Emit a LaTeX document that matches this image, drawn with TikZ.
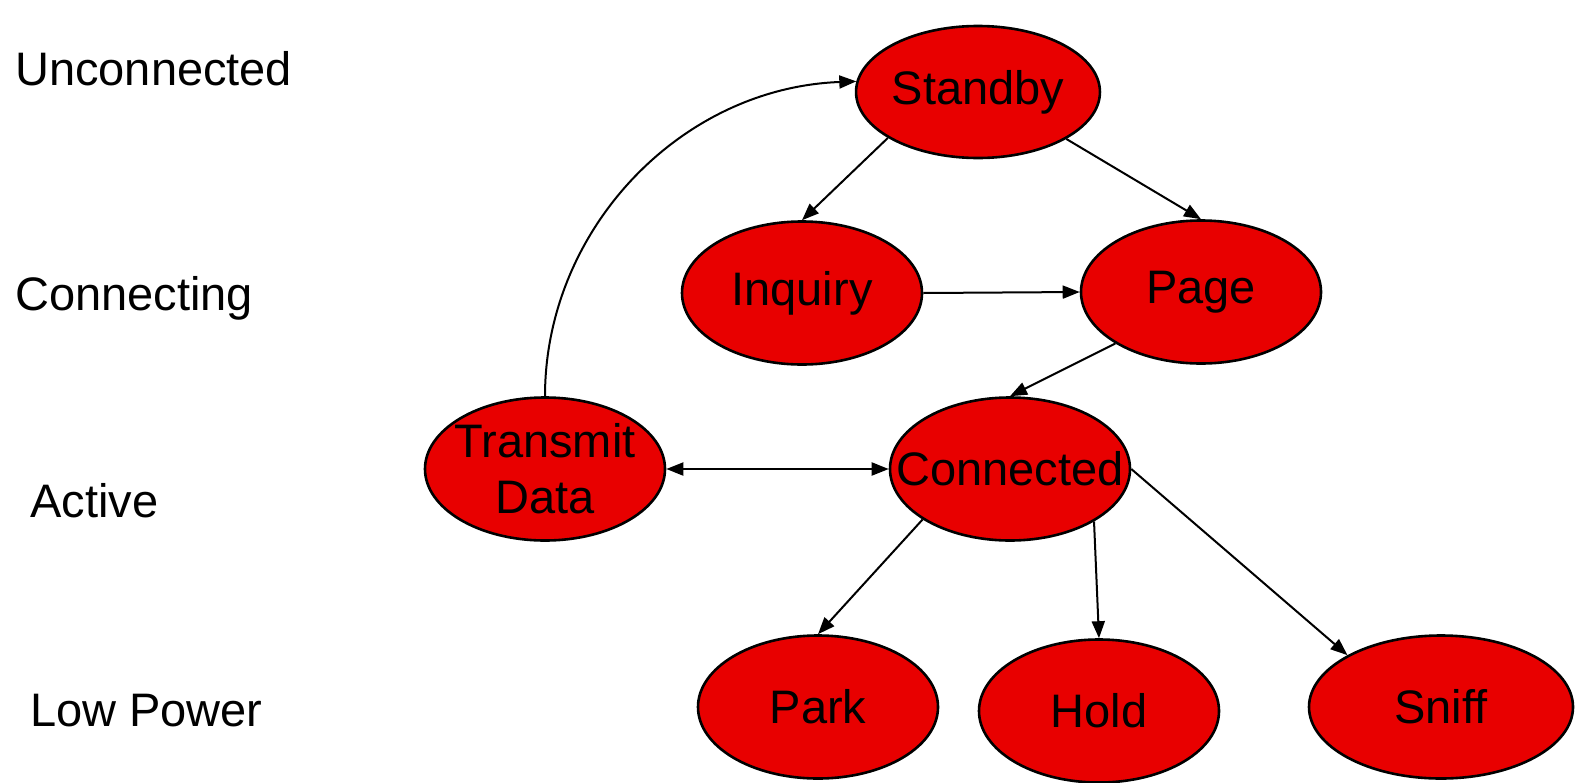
\documentclass[tikz,border=0pt]{standalone}
\usepackage{fontspec}
\setmainfont{Liberation Sans}
\usetikzlibrary{shapes.geometric,arrows.meta}
\definecolor{statered}{RGB}{232,0,0}
\tikzset{
  state/.style={ellipse,draw=black,fill=statered,line width=2.6pt,inner sep=0pt,
    minimum width=240pt,minimum height=143pt,font=\fontsize{47}{56}\selectfont,text=black},
  levellabel/.style={anchor=base west,inner sep=0pt,font=\fontsize{47}{56}\selectfont},
  tip/.style={Triangle[length=17pt,width=13pt]},
  conn/.style={line width=2pt,-{Triangle[length=17pt,width=13pt]}},
}
\begin{document}
\begin{tikzpicture}[x=1pt,y=-1pt]
\useasboundingbox (0,0) rectangle (1579,782);
\node[levellabel] (l1) at (15,85) {Unconnected};
\node[levellabel] (l2) at (15,310) {Connecting};
\node[levellabel] (l3) at (30,517) {Active};
\node[levellabel] (l4) at (30,726) {Low Power};

\node[state,minimum height=132pt] (standby) at (978,92) {Standby};
\node[state] (inquiry) at (802,293) {Inquiry};
\node[state] (page) at (1201,292) {Page};
\node[state,align=center] (transmit) at (545,469) {\makebox[0pt]{Transmit}\\\makebox[0pt]{Data}};
\node[state] (connected) at (1010,469) {\makebox[0pt]{Connected}};
\node[state] (park) at (818,707) {Park};
\node[state] (hold) at (1099,711) {Hold};
\node[state,minimum width=264pt] (sniff) at (1441,707) {Sniff};

\draw[conn] (standby.207.6) -- (inquiry.north);
\draw[conn] (standby.332.4) -- (page.north);
\draw[conn] (inquiry.east) -- (page.west);
\draw[conn] (page.211.5) -- (connected.north);
\draw[conn,{Triangle[length=17pt,width=13pt]}-{Triangle[length=17pt,width=13pt]}] (transmit.east) -- (connected.west);
\draw[conn] (transmit.north) .. controls (545,230) and (680,88) .. (standby.175);
\draw[conn] (connected.210.6) -- (park.north);
\draw[conn] (connected.328.5) -- (hold.north);
\draw[conn] (connected.east) -- (sniff.151.5);
\end{tikzpicture}
\end{document}
